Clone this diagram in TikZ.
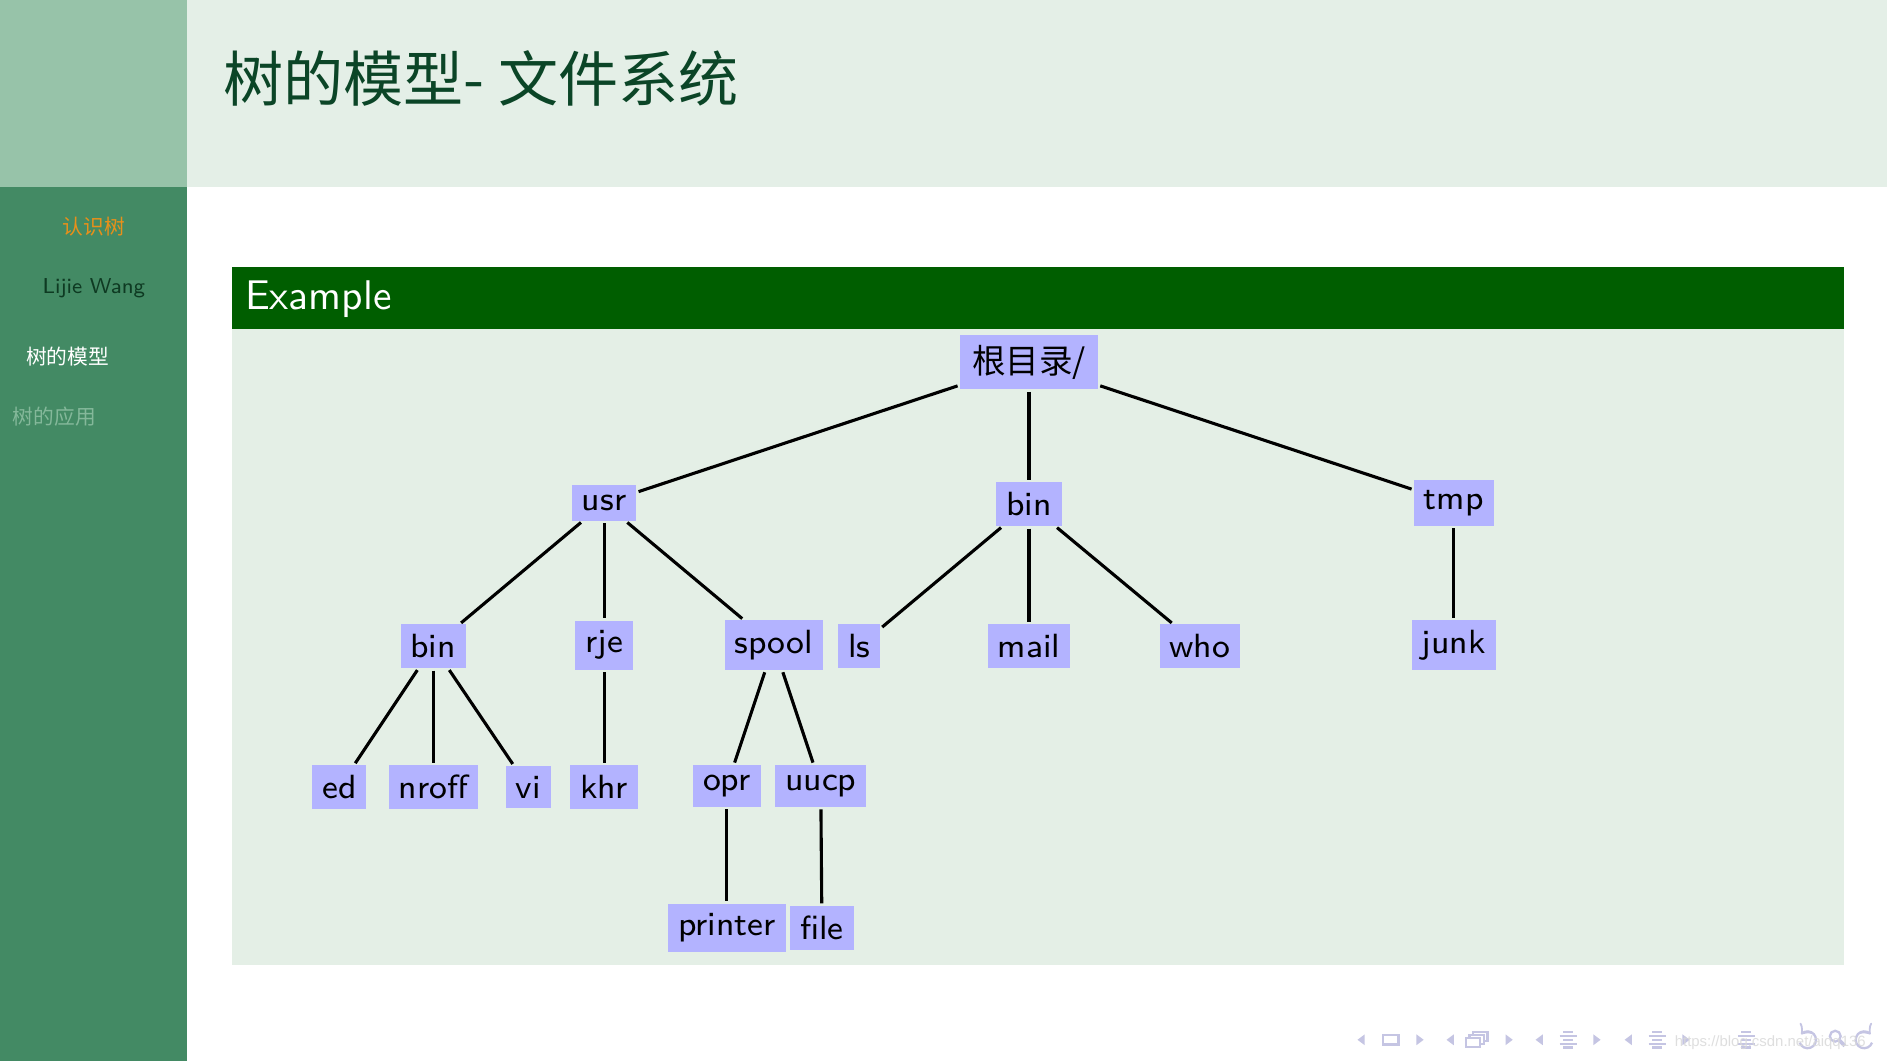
\documentclass[tikz,border=0pt]{standalone}
\usepackage{fontspec}
\newfontfamily\cjk{Noto Sans CJK SC}
\newfontfamily\wmfont{Liberation Sans}
\definecolor{sidebar}{HTML}{438A64}
\definecolor{sidebartop}{HTML}{97C3A9}
\definecolor{headerc}{HTML}{E4EFE7}
\definecolor{blocktitle}{HTML}{005E00}
\definecolor{blockbody}{HTML}{E4EFE6}
\definecolor{nodeblue}{HTML}{B3B3FF}
\definecolor{titlec}{HTML}{0B4527}
\definecolor{navc}{HTML}{C5C5E3}
\definecolor{sideorange}{HTML}{E8901A}
\definecolor{sidedark}{HTML}{0E3A22}
\definecolor{sidefaint}{HTML}{84B89A}
\newcommand{\nodefont}{\sffamily\fontsize{8.1}{10}\selectfont}
\begin{document}
\begin{tikzpicture}[x=0.2903pt,y=-0.2903pt,
  tn/.style={fill=nodeblue, font=\nodefont, inner xsep=2.4pt, inner ysep=2.4pt, outer sep=0pt},
  edge/.style={line width=0.75pt, shorten <=0.6pt, shorten >=0.6pt},
  navtri/.style={fill=navc},
  navline/.style={draw=navc, line width=0.55pt},
  navbar/.style={draw=navc, line width=0.6pt},
  sidetext/.style={inner sep=0, font=\cjk\fontsize{5}{6}\selectfont}]
\useasboundingbox (0,0) rectangle (1568,882);
\fill[white] (0,0) rectangle (1568,882);
% sidebar and header
\fill[sidebar] (0,0) rectangle (155,882);
\fill[sidebartop] (0,0) rectangle (155,155);
\fill[headerc] (155,0) rectangle (1568,155);
\node[anchor=base west, inner sep=0, text=titlec, font=\cjk\fontsize{14.5}{17}\selectfont] (title) at (185,84) {树的模型- 文件系统};
% sidebar texts
\node[sidetext, anchor=base, text=sideorange] (s1) at (78,195) {认识树};
\node[inner sep=0, anchor=base, text=sidedark, font=\sffamily\fontsize{5.2}{6}\selectfont] (s2) at (78,244) {Lijie Wang};
\node[sidetext, anchor=base west, text=white] (s3) at (21,303) {树的模型};
\node[sidetext, anchor=base west, text=sidefaint] (s4) at (10,353) {树的应用};
% block
\fill[blocktitle] (193,222) rectangle (1532,273);
\fill[blockbody] (193,273) rectangle (1532,802);
\node[anchor=base west, inner sep=0, text=white, font=\sffamily\fontsize{10}{12}\selectfont] (ex) at (203,257) {Example};
% tree nodes
\node[tn, inner xsep=2.9pt] (root) at (855,301) {\cjk 根目录/};
\node[tn] (usr) at (502,418) {usr};
\node[tn] (bina) at (855,419) {bin};
\node[tn] (tmp) at (1208,418) {tmp};
\node[tn] (binb) at (360,537) {bin};
\node[tn] (rje) at (502,536) {rje};
\node[tn] (spool) at (643,536) {spool};
\node[tn] (ls) at (714,537) {ls};
\node[tn] (mail) at (855,537) {mail};
\node[tn] (who) at (997,537) {who};
\node[tn] (junk) at (1208,536) {junk};
\node[tn] (ed) at (282,654) {ed};
\node[tn] (nroff) at (360,654) {nroff};
\node[tn] (vi) at (439,654) {vi};
\node[tn] (khr) at (502,654) {khr};
\node[tn] (opr) at (604,653) {opr};
\node[tn] (uucp) at (682,653) {uucp};
\node[tn] (printer) at (604,771) {printer};
\node[tn] (file) at (683,771) {file};
% edges
\draw[edge] (root) -- (usr);
\draw[edge] (root) -- (bina);
\draw[edge] (root) -- (tmp);
\draw[edge] (usr) -- (binb);
\draw[edge] (usr) -- (rje);
\draw[edge] (usr) -- (spool);
\draw[edge] (bina) -- (ls);
\draw[edge] (bina) -- (mail);
\draw[edge] (bina) -- (who);
\draw[edge] (tmp) -- (junk);
\draw[edge] (binb) -- (ed);
\draw[edge] (binb) -- (nroff);
\draw[edge] (binb) -- (vi);
\draw[edge] (rje) -- (khr);
\draw[edge] (spool) -- (opr);
\draw[edge] (spool) -- (uucp);
\draw[edge] (opr) -- (printer);
\draw[edge] (uucp) -- (file);
% navigation symbols
\foreach \xa in {1128,1202,1276,1350} {
  \fill[navtri] (\xa+6,859.5) -- (\xa,864) -- (\xa+6,868.5) -- cycle;
}
\foreach \xa in {1177,1251,1324,1398} {
  \fill[navtri] (\xa,859.5) -- (\xa+6,864) -- (\xa,868.5) -- cycle;
}
\draw[navline] (1149,860) rectangle (1162,868);
\draw[navline] (1224,857.5) rectangle (1236,865);
\filldraw[navline, fill=white] (1221,860) rectangle (1233,867.5);
\filldraw[navline, fill=white] (1218,862.5) rectangle (1230,870);
\foreach \xc in {1303,1377,1451} {
  \draw[navbar] (\xc-4,857.5) -- (\xc+4,857.5);
  \draw[navbar] (\xc-7,860.8) -- (\xc+7,860.8);
  \draw[navbar] (\xc-4,864) -- (\xc+4,864);
  \draw[navbar] (\xc-7,867.3) -- (\xc+7,867.3);
  \draw[navbar] (\xc-4,870.5) -- (\xc+4,870.5);
}
\draw[navline, ->] ([shift={(1502,864)}]160:7) arc[start angle=160, end angle=-140, radius=7];
\draw[navline] (1525,861) circle[radius=4.5];
\draw[navline, line width=0.9pt] (1528.5,864.5) -- (1533,869);
\draw[navline, ->] ([shift={(1549,864)}]20:7) arc[start angle=20, end angle=320, radius=7];
% watermark
\node[anchor=west, inner sep=0, text=gray!30, opacity=0.85, font=\wmfont\fontsize{3.6}{4.5}\selectfont] (wm) at (1391,866) {https://blog.csdn.net/aiqq136};
\end{tikzpicture}
\end{document}
